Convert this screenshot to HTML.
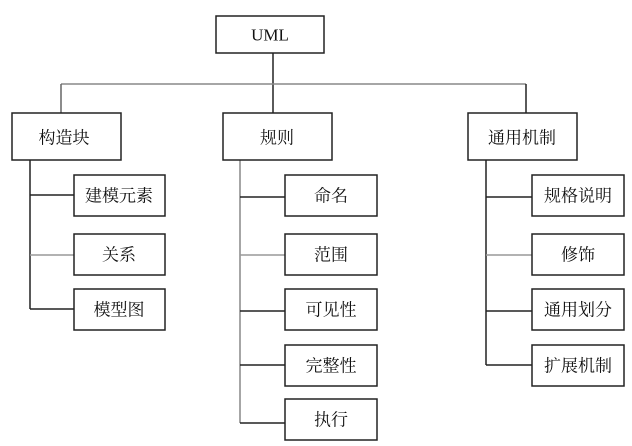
<!DOCTYPE html>
<html><head><meta charset="utf-8"><style>
html,body{margin:0;padding:0;background:#fff;}
svg{display:block}
text{font-family:"Liberation Serif","Noto Serif CJK SC","Noto Sans CJK SC",serif;font-size:17px;fill:#111;text-anchor:middle;dominant-baseline:central}
</style></head><body>
<svg width="632" height="446" viewBox="0 0 632 446" xmlns="http://www.w3.org/2000/svg">
<g stroke="#222" stroke-width="1.5" fill="none">
<line x1="273" y1="53" x2="273" y2="113"/>
<line x1="61" y1="84" x2="526" y2="84" stroke="#888"/>
<line x1="61" y1="84" x2="61" y2="113" stroke="#666"/>
<line x1="526" y1="84" x2="526" y2="113"/>
<line x1="30" y1="160" x2="30" y2="309"/>
<line x1="30" y1="195" x2="74" y2="195"/>
<line x1="30" y1="255" x2="74" y2="255" stroke="#999"/>
<line x1="30" y1="309" x2="74" y2="309"/>
<line x1="240" y1="160" x2="240" y2="423" stroke="#888"/>
<line x1="240" y1="197" x2="285" y2="197"/>
<line x1="240" y1="255" x2="285" y2="255" stroke="#999"/>
<line x1="240" y1="311" x2="285" y2="311"/>
<line x1="240" y1="365" x2="285" y2="365"/>
<line x1="240" y1="423" x2="285" y2="423"/>
<line x1="486" y1="160" x2="486" y2="365"/>
<line x1="486" y1="197" x2="532" y2="197"/>
<line x1="486" y1="255" x2="532" y2="255" stroke="#999"/>
<line x1="486" y1="311" x2="532" y2="311"/>
<line x1="486" y1="365" x2="532" y2="365"/>
<rect x="216" y="16" width="108" height="37"/>
<rect x="12" y="113" width="109" height="47"/>
<rect x="223" y="113" width="109" height="47"/>
<rect x="468" y="113" width="109" height="47"/>
<rect x="74" y="175" width="91" height="41"/>
<rect x="74" y="234" width="91" height="41"/>
<rect x="74" y="289" width="91" height="41"/>
<rect x="285" y="175" width="92" height="41"/>
<rect x="285" y="234" width="92" height="41"/>
<rect x="285" y="289" width="92" height="41"/>
<rect x="285" y="345" width="92" height="41"/>
<rect x="285" y="399" width="92" height="41"/>
<rect x="532" y="175" width="92" height="41"/>
<rect x="532" y="234" width="92" height="41"/>
<rect x="532" y="289" width="92" height="41"/>
<rect x="532" y="345" width="92" height="41"/>
</g>
<text x="270" y="35">UML</text>
<text x="64" y="138">构造块</text>
<text x="277" y="138">规则</text>
<text x="522" y="138">通用机制</text>
<text x="119" y="196">建模元素</text>
<text x="119" y="255">关系</text>
<text x="119" y="310">模型图</text>
<text x="331" y="196">命名</text>
<text x="331" y="255">范围</text>
<text x="331" y="310">可见性</text>
<text x="331" y="366">完整性</text>
<text x="331" y="420">执行</text>
<text x="578" y="196">规格说明</text>
<text x="578" y="255">修饰</text>
<text x="578" y="310">通用划分</text>
<text x="578" y="366">扩展机制</text>
</svg>
</body></html>
